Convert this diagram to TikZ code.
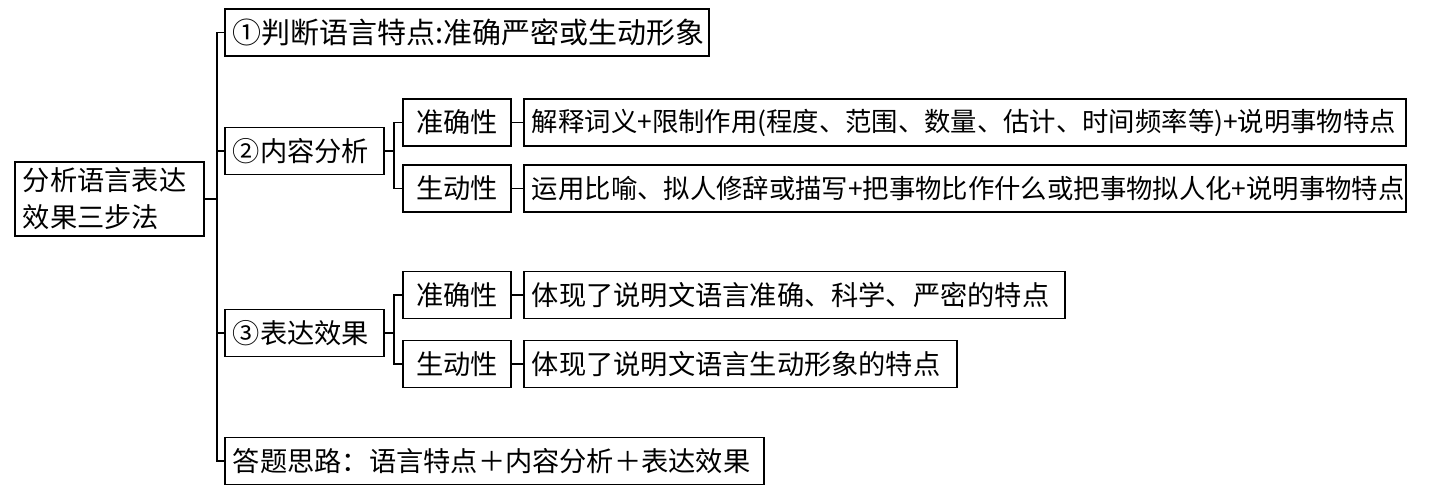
\documentclass[tikz,border=0pt]{standalone}
\usepackage{fontspec}
\setmainfont{Noto Sans CJK SC}
\usepackage{tikz}

\begin{document}
\begin{tikzpicture}[x=0.02cm, y=-0.02cm, line width=1.1pt,
box/.style = {shape=rectangle, draw, anchor=west, inner xsep=0.16cm,
	minimum height=0.94cm, align=left, font=\fontsize{15.5}{21}\selectfont},
topic/.style = {box, text width=2.86cm},
kind/.style = {box, text width=1.84cm, align=center},
long/.style = {box, text width=17.32cm, font=\fontsize{15}{18}\selectfont}]
	\useasboundingbox (0,0) rectangle (1431,500);
	\node[box, text width=3.46cm, minimum height=1.44cm] (root) at (14,199) {分析语言表达\\效果三步法};
	\node[box, text width=9.36cm, font=\fontsize{16.5}{20}\selectfont] (step1) at (224,32.5) {①判断语言特点:准确严密或生动形象};
	\node[topic] (step2) at (224,151) {②内容分析};
	\node[topic] (step3) at (224,333) {③表达效果};
	\node[box, text width=10.46cm] (idea) at (224,461) {答题思路：语言特点＋内容分析＋表达效果};
	\node[kind] (exact2) at (402,122.5) {准确性};
	\node[kind] (vivid2) at (402,188.5) {生动性};
	\node[long] (exactText2) at (523,122.5) {解释词义+限制作用(程度、范围、数量、估计、时间频率等)+说明事物特点};
	\node[long] (vividText2) at (523,188.5) {运用比喻、拟人修辞或描写+把事物比作什么或把事物拟人化+说明事物特点};
	\node[kind] (exact3) at (402,295) {准确性};
	\node[kind] (vivid3) at (402,364) {生动性};
	\node[box, text width=10.5cm] (exactText3) at (523,295) {体现了说明文语言准确、科学、严密的特点};
	\node[box, text width=8.34cm] (vividText3) at (523,364) {体现了说明文语言生动形象的特点};
	\coordinate (trunk) at (217,0);
	\coordinate (fork) at (394,0);
	\draw (root.east) -- (root.east -| trunk);
	\draw (step1.west) -- (step1.west -| trunk) -- (idea.west -| trunk) -- (idea.west);
	\foreach \s in {step2,step3}
		\draw (\s.west) -- (\s.west -| trunk);
	\foreach \s/\a/\b in {step2/exact2/vivid2,step3/exact3/vivid3} {
		\draw (\s.east) -- (\s.east -| fork);
		\draw (\a.west) -- (\a.west -| fork) -- (\b.west -| fork) -- (\b.west);
	}
	\foreach \a/\b in {exact2/exactText2,vivid2/vividText2,exact3/exactText3,vivid3/vividText3}
		\draw (\a.east) -- (\b.west);
\end{tikzpicture}
\end{document}
